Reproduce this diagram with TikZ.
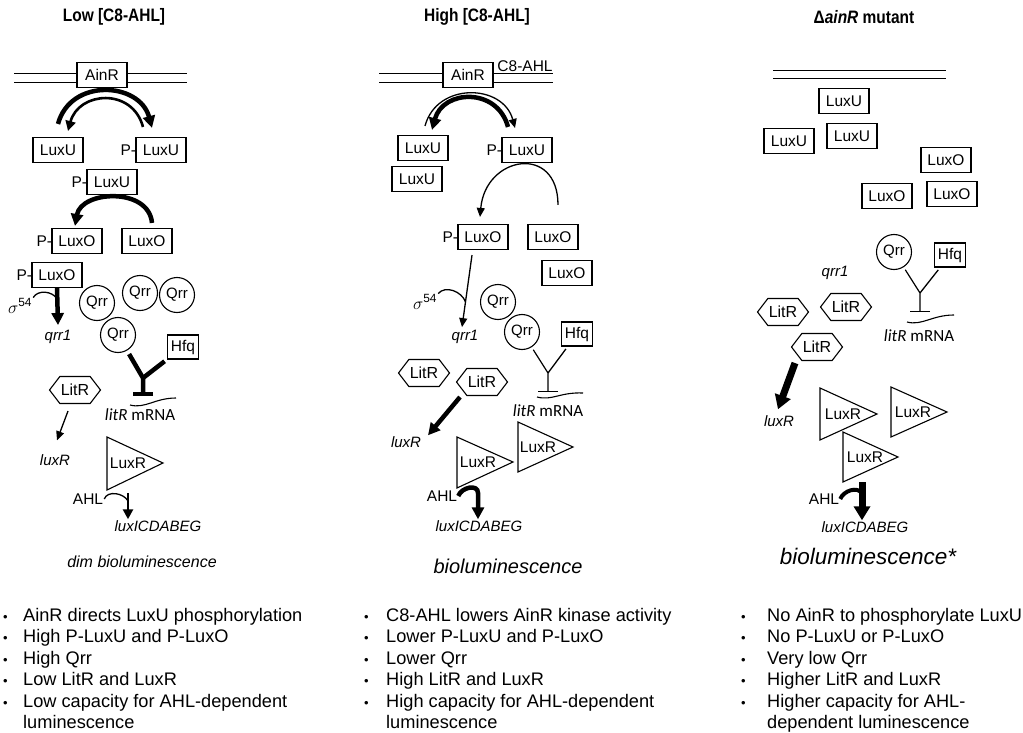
\documentclass[tikz,border=0pt]{standalone}
\usepackage{fontspec}
\setmainfont{Liberation Sans}
\newfontfamily\calfont{Carlito}
\newfontfamily\narrowbf[FakeStretch=0.86]{Liberation Sans Bold}
\usetikzlibrary{arrows.meta,shapes.symbols}

\newcommand{\bul}[1][20pt]{\makebox[#1][l]{\fontsize{13}{13}\selectfont\textbullet}}

\begin{document}
\begin{tikzpicture}[
    x = 1pt, y = 1pt,
    box/.style      = {draw, fill = white, line width = 1.1pt, minimum width = 50pt,
                       minimum height = 25pt, inner sep = 0pt, font = \fontsize{15.5}{18}\selectfont},
    hfqbox/.style   = {box, minimum width = 31pt, minimum height = 24pt},
    qrrball/.style  = {draw, circle, line width = 1.1pt, minimum size = 35pt, inner sep = 0pt,
                       font = \fontsize{15}{18}\selectfont},
    hexa/.style     = {draw, fill = white, signal, signal to = east and west, signal pointer angle = 105,
                       line width = 1.1pt, minimum width = 51pt, minimum height = 27pt, inner sep = 0pt,
                       font = \fontsize{16}{18}\selectfont},
    phos/.style     = {anchor = east, inner sep = 0pt, xshift = 0.8pt, font = \fontsize{15.5}{18}\selectfont},
    gene/.style     = {inner sep = 1pt, font = \fontsize{15}{18}\selectfont\itshape},
    plain/.style    = {inner sep = 1pt, font = \fontsize{15.5}{18}\selectfont},
    sigma/.style    = {inner sep = 1pt, font = \fontsize{17}{18}\selectfont},
    mrna/.style     = {inner sep = 1pt, font = \fontsize{17}{19}\selectfont\calfont},
    title/.style    = {font = \fontsize{18}{21}\selectfont\narrowbf},
    bullets/.style  = {anchor = north west, align = left, inner sep = 0pt, font = \fontsize{18.2}{21.5}\selectfont},
    membrane/.style = {line width = 1pt},
    tri/.style      = {draw, fill = white, line width = 1.1pt},
    thinline/.style = {line width = 1.3pt},
    thinar/.style   = {line width = 1.3pt, -{Triangle[length = 9pt, width = 8pt]}},
    medar/.style    = {line width = 2.6pt, -{Triangle[length = 10pt, width = 10pt]}},
    thickar/.style  = {line width = 4.5pt, -{Triangle[length = 12pt, width = 12pt]}},
    heavyar/.style  = {line width = 7pt, -{Triangle[length = 14pt, width = 16pt]}},
    thinbar/.style  = {line width = 1.2pt, -{Bar[width = 20pt]}},
    thickbar/.style = {line width = 4.5pt, -{Bar[width = 20pt]}}
  ]
  \useasboundingbox (0,0) rectangle (1023,-733);

  % ---------------- low C8-AHL ----------------
  \node[title] (ttlLow) at (114,-17) {Low [C8-AHL]};
  \draw[membrane] (14,-74) -- (187,-74) (14,-83) -- (187,-83);
  \node[box] (ainrL) at (102,-75) {AinR};
  \node[box] (luxuL) at (58,-150) {LuxU};
  \node[box] (pluxuL) at (161,-150) {LuxU};
  \node[phos] (pL1) at (pluxuL.west) {P-};
  \node[box] (pluxuLb) at (112,-182) {LuxU};
  \node[phos] (pL2) at (pluxuLb.west) {P-};
  \node[box] (pluxoL) at (77,-241) {LuxO};
  \node[phos] (pL3) at (pluxoL.west) {P-};
  \node[box] (luxoL) at (147,-241) {LuxO};
  \node[box] (pluxoLb) at (57,-275) {LuxO};
  \node[phos] (pL4) at (pluxoLb.west) {P-};
  \node[sigma] (sigL) at (20,-306) {$\sigma$\textsuperscript{54}};
  \node[gene] (qrrgL) at (58,-337) {qrr1};
  \node[qrrball] (qrrLa) at (97,-303) {Qrr};
  \node[qrrball] (qrrLb) at (140,-293) {Qrr};
  \node[qrrball] (qrrLc) at (177,-295) {Qrr};
  \node[qrrball] (qrrLd) at (118,-335) {Qrr};
  \node[hfqbox] (hfqL) at (183,-347) {Hfq};
  \coordinate (yL) at (143,-378);
  \coordinate (mrnaL) at (143,-396);
  \node[mrna] (litrmL) at (140,-415) {\textit{litR} mRNA};
  \node[hexa] (litrL) at (75,-390) {LitR};
  \node[gene] (luxrgL) at (55,-460) {luxR};
  \draw[tri] (107,-437) -- (163,-463) -- (107,-490) -- cycle;
  \node[plain] (luxrL) at (128,-463) {LuxR};
  \node[plain] (ahlL) at (88,-499) {AHL};
  \coordinate (shL) at (128,-493);
  \node[gene] (luxicdL) at (158,-526) {luxICDABEG};
  \node[font = \fontsize{16}{19}\selectfont\itshape] (outL) at (142,-562) {dim bioluminescence};
  % arrows
  \draw[thickar] ([yshift=13]luxuL.north) to[out=75, in=105, looseness=1.3] ([xshift=-9,yshift=9]pluxuL.north);
  \draw[medar] ([xshift=-18,yshift=10]pluxuL.north) to[out=105, in=75, looseness=1.4] ([xshift=10,yshift=6]luxuL.north);
  \draw[thickar] ([xshift=5,yshift=5]luxoL.north) to[out=95, in=80, looseness=1.2] ([xshift=-2,yshift=2]pluxoL.north);
  \draw[thickar] (pluxoLb.south) -- coordinate[pos=.3] (jL) ([yshift=4]qrrgL.north);
  \draw[thinline] (sigL.north east) to[out=60, in=120] (jL);
  \draw[thickbar, shorten <=4pt] (qrrLd) -- (yL) -- (mrnaL);
  \draw[line width = 4.5pt, shorten <=3pt] (hfqL) -- (yL);
  \draw[line width = 1.1pt] (130,-405) .. controls (145,-409) and (155,-398) .. (176,-398);
  \draw[thinar] ([xshift=-7,yshift=-7]litrL.south) -- ([xshift=2,yshift=13]luxrgL.north);
  \draw[medar] (shL) -- coordinate[pos=.3] (jaL) (shL |- luxicdL.north);
  \draw[thinline] (ahlL.east) to[out=70, in=120] (jaL);

  % ---------------- high C8-AHL ----------------
  \node[title] (ttlHigh) at (477,-17) {High [C8-AHL]};
  \draw[membrane] (379,-74) -- (553,-74) (379,-83) -- (553,-83);
  \node[box] (ainrM) at (468,-75) {AinR};
  \node[plain] (c8M) at (525,-66) {C8-AHL};
  \node[box] (luxuM) at (423,-148) {LuxU};
  \node[box] (luxuMb) at (417,-179) {LuxU};
  \node[box] (pluxuM) at (527,-150) {LuxU};
  \node[phos] (pM1) at (pluxuM.west) {P-};
  \node[box] (pluxoM) at (483,-237) {LuxO};
  \node[phos] (pM2) at (pluxoM.west) {P-};
  \node[box] (luxoM) at (553,-237) {LuxO};
  \node[box] (luxoMb) at (567,-273) {LuxO};
  \node[sigma] (sigM) at (425,-302) {$\sigma$\textsuperscript{54}};
  \node[gene] (qrrgM) at (465,-337) {qrr1};
  \node[qrrball] (qrrMa) at (498,-302) {Qrr};
  \node[qrrball] (qrrMb) at (522,-332) {Qrr};
  \node[hfqbox] (hfqM) at (577,-334) {Hfq};
  \coordinate (yM) at (548,-373);
  \coordinate (mrnaM) at (548,-392);
  \node[mrna] (litrmM) at (548,-411) {\textit{litR} mRNA};
  \node[hexa] (litrMa) at (424,-373) {LitR};
  \node[hexa] (litrMb) at (482,-382) {LitR};
  \node[gene] (luxrgM) at (406,-442) {luxR};
  \draw[tri] (457,-437) -- (513,-462) -- (457,-488) -- cycle;
  \node[plain] (luxrMa) at (478,-462) {LuxR};
  \draw[tri] (518,-422) -- (573,-447) -- (518,-472) -- cycle;
  \node[plain] (luxrMb) at (538,-447) {LuxR};
  \node[plain] (ahlM) at (442,-496) {AHL};
  \coordinate (shM) at (478,-493);
  \node[gene] (luxicdM) at (479,-526) {luxICDABEG};
  \node[font = \fontsize{20}{24}\selectfont\itshape] (outM) at (508,-566) {bioluminescence};
  % arrows
  \draw[thinar] ([xshift=2,yshift=9]luxuM.north) to[out=75, in=105, looseness=1.3] ([xshift=-12,yshift=9]pluxuM.north);
  \draw[thickar] ([xshift=-19,yshift=10]pluxuM.north) to[out=105, in=75, looseness=1.4] ([xshift=9,yshift=5]luxuM.north);
  \draw[thinar] ([xshift=5,yshift=19]luxoM.north) to[out=90, in=85, looseness=2] ([xshift=-3,yshift=7]pluxoM.north);
  \draw[thinar] ([xshift=-11,yshift=-5]pluxoM.south) -- coordinate[pos=.65] (jM) ([xshift=-3,yshift=2]qrrgM.north);
  \draw[thinline] (sigM.north east) to[out=50, in=110] (jM);
  \draw[thinbar, shorten <=3pt] (qrrMb) -- (yM) -- (mrnaM);
  \draw[thinline, shorten <=3pt] (hfqM) -- (yM);
  \draw[line width = 1.1pt] (537,-397) .. controls (552,-401) and (560,-392) .. (583,-393);
  \draw[thickar] ([xshift=-22,yshift=-1]litrMb.south) -- ([xshift=22,yshift=0]luxrgM.north);
  \draw[thickar] (ahlM.east) to[out=70, in=90, looseness=1.2] (shM) -- (shM |- luxicdM.north);

  % ---------------- ainR mutant ----------------
  \node[title] (ttlMut) at (864,-17) {Δ\textit{ainR} mutant};
  \draw[membrane] (773,-71) -- (946,-71) (773,-79) -- (946,-79);
  \node[box] (luxuRa) at (844,-101) {LuxU};
  \node[box] (luxuRb) at (789,-141) {LuxU};
  \node[box] (luxuRc) at (852,-136) {LuxU};
  \node[box] (luxoRa) at (946,-160) {LuxO};
  \node[box] (luxoRb) at (887,-196) {LuxO};
  \node[box] (luxoRc) at (952,-194) {LuxO};
  \node[qrrball] (qrrR) at (894,-252) {Qrr};
  \node[hfqbox] (hfqR) at (950,-255) {Hfq};
  \node[gene] (qrrgR) at (835,-273) {qrr1};
  \coordinate (yR) at (920,-293);
  \coordinate (mrnaR) at (920,-312);
  \node[mrna] (litrmR) at (919,-336) {\textit{litR} mRNA};
  \node[hexa] (litrRa) at (783,-312) {LitR};
  \node[hexa] (litrRb) at (846,-307) {LitR};
  \node[hexa] (litrRc) at (817,-347) {LitR};
  \node[gene] (luxrgR) at (779,-421) {luxR};
  \draw[tri] (820,-388) -- (877,-414) -- (820,-440) -- cycle;
  \node[plain] (luxrRa) at (843,-414) {LuxR};
  \draw[tri] (891,-387) -- (947,-412) -- (891,-437) -- cycle;
  \node[plain] (luxrRb) at (913,-412) {LuxR};
  \draw[tri] (843,-432) -- (898,-457) -- (843,-482) -- cycle;
  \node[plain] (luxrRc) at (865,-457) {LuxR};
  \node[plain] (ahlR) at (824,-499) {AHL};
  \coordinate (shR) at (862,-482);
  \node[gene] (luxicdR) at (865,-527) {luxICDABEG};
  \node[font = \fontsize{22.5}{26}\selectfont\itshape] (outR) at (868,-556) {bioluminescence*};
  % arrows
  \draw[thinbar, shorten <=3pt] (qrrR) -- (yR) -- (mrnaR);
  \draw[thinline, shorten <=3pt] (hfqR) -- (yR);
  \draw[line width = 1.1pt] (907,-322) .. controls (922,-326) and (932,-315) .. (954,-315);
  \draw[heavyar] ([xshift=-22,yshift=-2]litrRc.south) -- ([xshift=-1,yshift=5]luxrgR.north);
  \draw[heavyar] (shR) -- coordinate[pos=.3] (jaR) (shR |- luxicdR.north);
  \draw[line width = 4pt] (ahlR.east) to[out=70, in=120] (jaR);

  % ---------------- summaries ----------------
  \node[bullets] (listL) at (3,-608) {\bul AinR directs LuxU phosphorylation\\
    \bul High P-LuxU and P-LuxO\\
    \bul High Qrr\\
    \bul Low LitR and LuxR\\
    \bul Low capacity for AHL-dependent\\
    \hspace*{20pt}luminescence};
  \node[bullets] (listM) at (364,-608) {\bul[22pt]C8-AHL lowers AinR kinase activity\\
    \bul[22pt]Lower P-LuxU and P-LuxO\\
    \bul[22pt]Lower Qrr\\
    \bul[22pt]High LitR and LuxR\\
    \bul[22pt]High capacity for AHL-dependent\\
    \hspace*{22pt}luminescence};
  \node[bullets] (listR) at (741,-608) {\bul[26pt]No AinR to phosphorylate LuxU\\
    \bul[26pt]No P-LuxU or P-LuxO\\
    \bul[26pt]Very low Qrr\\
    \bul[26pt]Higher LitR and LuxR\\
    \bul[26pt]Higher capacity for AHL-\\
    \hspace*{26pt}dependent luminescence};
\end{tikzpicture}
\end{document}
